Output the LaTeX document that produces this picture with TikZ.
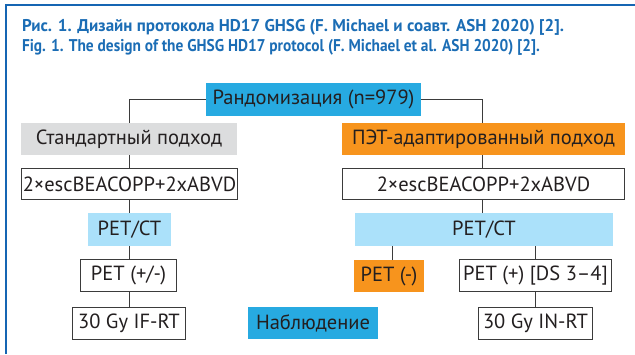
\documentclass[tikz,border=0pt]{standalone}
\usepackage{fontspec}
\setmainfont{PT Sans}
\newfontfamily\titlefontA[FakeStretch=1.0]{PT Sans}
\newfontfamily\titlefontB[FakeStretch=0.905]{PT Sans}
\definecolor{cyanb}{HTML}{27AAE1}
\definecolor{grayb}{HTML}{DCDDDE}
\definecolor{orangeb}{HTML}{F7941D}
\definecolor{lightb}{HTML}{ABE1FA}
\definecolor{txt}{HTML}{231F20}
\definecolor{edge}{HTML}{3B3B3B}
\definecolor{titleblue}{HTML}{1B6DB5}
\definecolor{frameblue}{HTML}{1565B3}
\begin{document}
\begin{tikzpicture}[x=1pt,y=-1pt,
  every node/.style={inner sep=0pt, outer sep=0pt, text=txt, font=\fontsize{20.5}{22}\selectfont},
  boxw/.style={draw=edge, line width=1.2pt, fill=white},
  boxc/.style={fill=cyanb},
  boxg/.style={fill=grayb},
  boxo/.style={fill=orangeb},
  boxl/.style={fill=lightb},
  conn/.style={draw=edge, line width=1pt},
  ttl/.style={anchor=base west, text=titleblue}]
\useasboundingbox (0,0) rectangle (635,354);
\draw[frameblue, line width=2.4pt] (6,354) -- (6,5.2) -- (635,5.2);
\node[ttl, font=\titlefontA\bfseries\fontsize{17}{19}\selectfont] (t1) at (22,31) {Рис. 1. Дизайн протокола HD17 GHSG (F. Michael и соавт. ASH 2020) [2].};
\node[ttl, font=\titlefontB\bfseries\fontsize{17}{19}\selectfont] (t2) at (22,51) {Fig. 1. The design of the GHSG HD17 protocol (F. Michael et al. ASH 2020) [2].};

\node[boxc, minimum width=215pt, minimum height=33pt] (rand) at (313.5,99.5) {Рандомизация (n=979)};
\node[boxg, minimum width=216pt, minimum height=32pt] (std) at (129,139) {Стандартный подход};
\node[boxw, minimum width=216pt, minimum height=31pt] (esc1) at (129.5,184) {2×escBEACOPP+2xABVD};
\node[boxo, minimum width=283pt, minimum height=32pt] (pet) at (483.5,139) {ПЭТ-адаптированный подход};
\node[boxw, minimum width=282pt, minimum height=31pt] (esc2) at (483.5,184) {2×escBEACOPP+2xABVD};
\node[boxl, minimum width=83pt, minimum height=33pt] (ct1) at (129.5,229.5) {PET/CT};
\node[boxl, minimum width=258pt, minimum height=33pt] (ct2) at (484,229.5) {PET/CT};
\node[boxw, minimum width=96pt, minimum height=32pt] (pm) at (128.5,275.5) {PET (+/-)};
\node[boxw, minimum width=113pt, minimum height=32pt] (if) at (129,323.5) {30 Gy IF-RT};
\node[boxc, minimum width=130pt, minimum height=32pt] (nab) at (313,323) {Наблюдение};
\node[boxo, minimum width=70pt, minimum height=32pt] (petm) at (389,276) {PET (-)};
\node[boxw, minimum width=152pt, minimum height=32pt] (petp) at (535.5,275.5) {PET (+) [DS 3–4]};
\node[boxw, minimum width=114pt, minimum height=32pt] (in) at (535.5,323.5) {30 Gy IN-RT};

\draw[conn] (rand.west) -| (std.north);
\draw[conn] (rand.east) -| ([xshift=-1.5pt]pet.north);
\draw[conn] (std.south) -- (std.south |- esc1.north);
\draw[conn] ([xshift=-1.5pt]pet.south) -- ([xshift=-1.5pt]pet.south |- esc2.north);
\draw[conn] (esc1.south -| std.south) -- (std.south |- ct1.north);
\draw[conn] ([xshift=-1.5pt]esc2.south) -- ([xshift=-1.5pt]esc2.south |- ct2.north);
\draw[conn] (ct1.south -| std.south) -- (std.south |- pm.north);
\draw[conn] (pm.south -| std.south) -- (std.south |- if.north);
\draw[conn] ([xshift=3pt]ct2.south -| petm.north) -- ([xshift=3pt]petm.north);
\draw[conn] (ct2.south -| petp.north) -- (petp.north);
\draw[conn] (petp.south) -- (petp.south |- in.north);
\end{tikzpicture}
\end{document}
